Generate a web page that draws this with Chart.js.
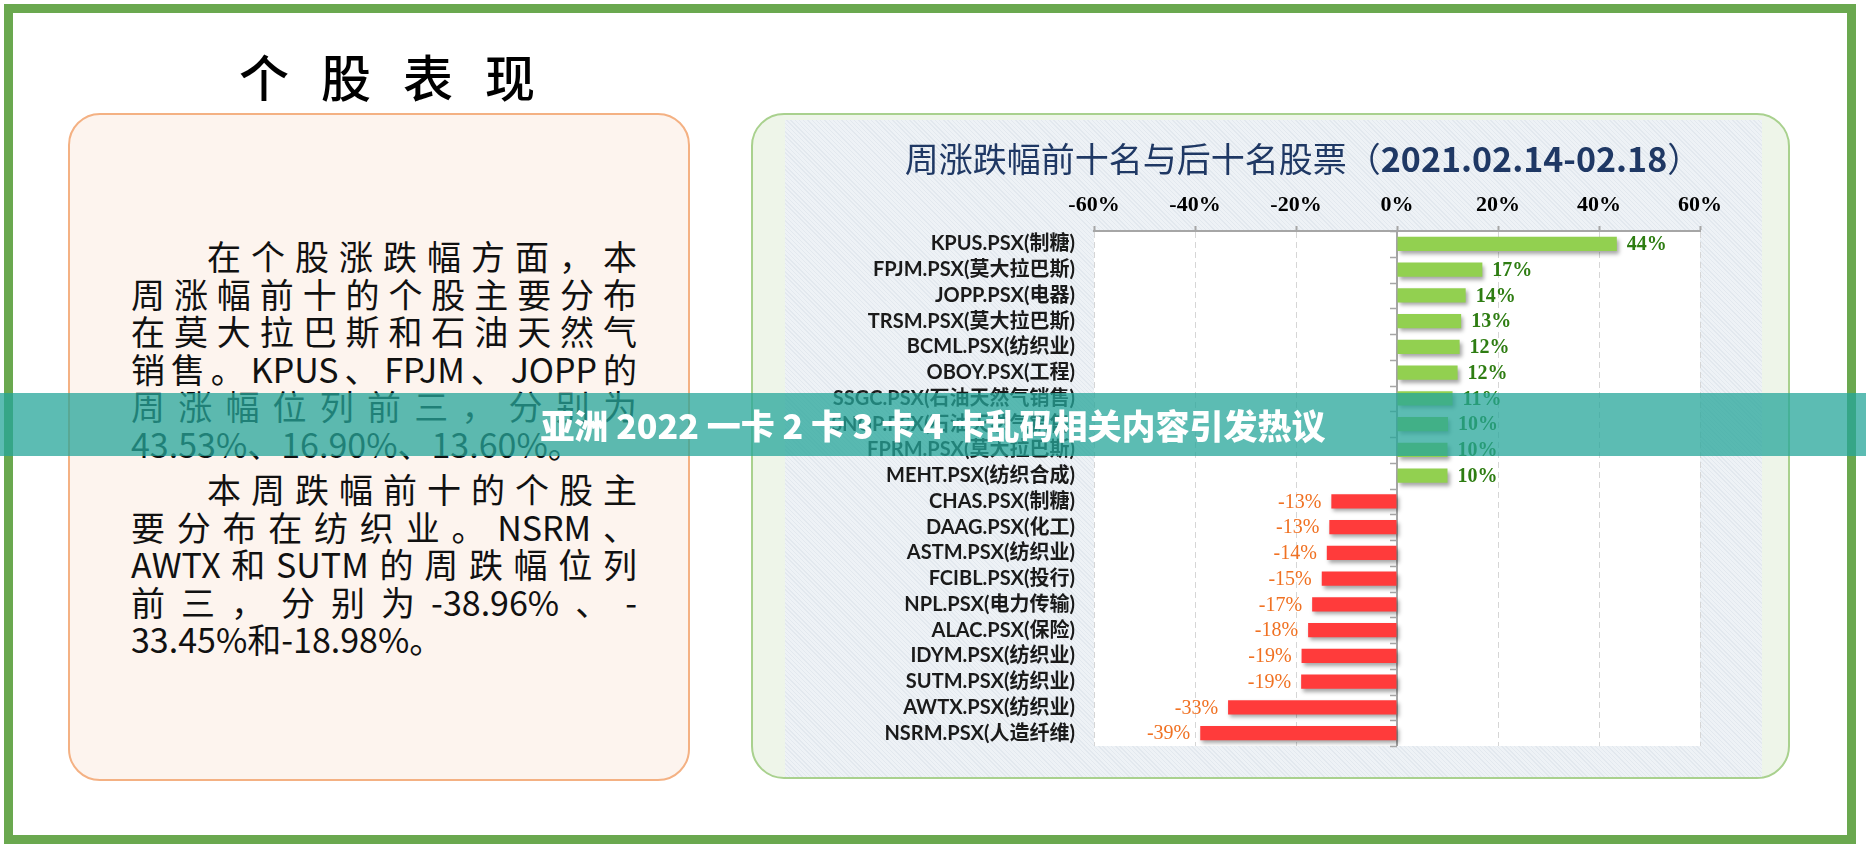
<!DOCTYPE html>
<html>
<head>
<meta charset="utf-8">
<script src="https://cdn.jsdelivr.net/npm/chart.js@4.4.0/dist/chart.umd.min.js"></script>
<style>
  html, body { margin: 0; padding: 0; background: #fff; }
  body { width: 1866px; height: 853px; position: relative; overflow: hidden; font-family: "Noto Sans CJK SC", "Noto Sans", sans-serif; }
  #frame { position: absolute; left: 4px; top: 4px; width: 1852px; height: 840px; border: 9px solid #6AA84F; box-sizing: border-box; }
  #pageTitle { position: absolute; left: 0; top: 45px; width: 774px; text-align: center; font-size: 50px; line-height: 60px; letter-spacing: 32px; padding-left: 32px; box-sizing: border-box; color: #000; font-weight: 500; }
  #leftBox { position: absolute; left: 68px; top: 113px; width: 622px; height: 668px; box-sizing: border-box; border: 2px solid #F4B183; border-radius: 32px; background: #FDF4EE; }
  #text { position: absolute; left: 131px; top: 237px; width: 506px; font-size: 34px; line-height: 37.6px; color: #111; }
  #text .ln { text-align: justify; text-align-last: justify; }
  #text .ln.last { text-align: left; text-align-last: left; }
  #text .para2 { margin-top: 7.4px; }
  #rightBox { position: absolute; left: 751px; top: 113px; width: 1039px; height: 666px; box-sizing: border-box; border: 2px solid #A9D18E; border-radius: 33px; background: #EEF5E9; }
  #chartWrap { position: absolute; left: 785px; top: 120px; width: 977px; height: 657px;
    background-color: #EEF2F6;
    background-image: repeating-linear-gradient(45deg, rgba(205,214,224,0.35) 0 1px, transparent 1px 3px); }
  #chartTitle { position: absolute; left: 803px; top: 137px; width: 1000px; text-align: center; font-size: 34px; line-height: 42px; color: #1F3864; }
  #chartTitle b { font-weight: 700; }
  #band { position: absolute; left: 0; top: 393px; width: 1866px; height: 63px; line-height: 63px; text-align: center; background: rgba(38,166,154,0.75); color: #fff; font-weight: 900; font-size: 34px; }
</style>
</head>
<body>
<div id="frame"></div>
<div id="pageTitle">个股表现</div>
<div id="leftBox"></div>
<div id="text">
  <div class="ln" style="padding-left:76px">在个股涨跌幅方面，本</div>
  <div class="ln">周涨幅前十的个股主要分布</div>
  <div class="ln">在莫大拉巴斯和石油天然气</div>
  <div class="ln">销售。KPUS、FPJM、JOPP的</div>
  <div class="ln">周涨幅位列前三，分别为</div>
  <div class="ln last">43.53%、16.90%、13.60%。</div>
  <div class="para2">
    <div class="ln" style="padding-left:76px">本周跌幅前十的个股主</div>
    <div class="ln">要分布在纺织业。NSRM、</div>
    <div class="ln">AWTX和SUTM的周跌幅位列</div>
    <div class="ln">前三，分别为-38.96%、-</div>
    <div class="ln last">33.45%和-18.98%。</div>
  </div>
</div>
<div id="rightBox"></div>
<div id="chartWrap"><canvas id="chart" width="977" height="657"></canvas></div>
<div id="chartTitle">周涨跌幅前十名与后十名股票（<b>2021.02.14-02.18</b>）</div>
<div id="band">亚洲 2022 一卡 2 卡 3 卡 4 卡乱码相关内容引发热议</div>

<script>
// stocks, top ten gainers then top ten losers
const categories = [
    'KPUS.PSX(制糖)', 'FPJM.PSX(莫大拉巴斯)', 'JOPP.PSX(电器)', 'TRSM.PSX(莫大拉巴斯)',
    'BCML.PSX(纺织业)', 'OBOY.PSX(工程)', 'SSGC.PSX(石油天然气销售)', 'SNGP.PSX(石油天然气销售)',
    'FPRM.PSX(莫大拉巴斯)', 'MEHT.PSX(纺织合成)', 'CHAS.PSX(制糖)', 'DAAG.PSX(化工)',
    'ASTM.PSX(纺织业)', 'FCIBL.PSX(投行)', 'NPL.PSX(电力传输)', 'ALAC.PSX(保险)',
    'IDYM.PSX(纺织业)', 'SUTM.PSX(纺织业)', 'AWTX.PSX(纺织业)', 'NSRM.PSX(人造纤维)'
];
const weeklyChange = [
    43.53, 16.90, 13.60, 12.7, 12.4, 12.0, 11.0, 10.1, 10.0, 10.0,
    -13.0, -13.4, -13.9, -14.9, -16.8, -17.6, -18.9, -18.98, -33.45, -38.96
];
const xTickValues = [-60, -40, -20, 0, 20, 40, 60];

const theme = {
    up: '#92D050',
    down: '#FF3B3B',
    upLabel: '#2E7D12',
    downLabel: '#F07122',
    axis: '#A6A6A6',
    grid: '#D6D6D6',
    text: '#1a1a1a'
};

const decorPlugin = {
    id: 'decor',
    beforeDraw(chart) {
        const { ctx, chartArea: a } = chart;
        ctx.save();
        ctx.fillStyle = '#ffffff';
        ctx.fillRect(a.left, a.top, a.right - a.left, a.bottom - a.top);
        ctx.restore();
    },
    beforeDatasetsDraw(chart) {
        const { ctx, chartArea: a, scales } = chart;
        const x0 = scales.x.getPixelForValue(0);
        const y = scales.y;
        // category axis drawn on the zero line
        ctx.save();
        ctx.strokeStyle = theme.axis;
        ctx.lineWidth = 2;
        ctx.beginPath();
        ctx.moveTo(x0, a.top);
        ctx.lineTo(x0, a.bottom);
        ctx.stroke();
        ctx.lineWidth = 1.5;
        for (let i = 0; i <= categories.length; i++) {
            const yy = Math.round(y.getPixelForValue(i - 0.5)) + 0.5;
            ctx.beginPath();
            ctx.moveTo(x0 - 7, yy);
            ctx.lineTo(x0, yy);
            ctx.stroke();
        }
        ctx.restore();

        ctx.save();
        ctx.shadowColor = 'rgba(0,0,0,0.35)';
        ctx.shadowBlur = 4;
        ctx.shadowOffsetX = 2;
        ctx.shadowOffsetY = 3;
    },
    afterDatasetsDraw(chart) {
        const { ctx } = chart;
        ctx.restore();

        const meta = chart.getDatasetMeta(0);
        ctx.save();
        ctx.textBaseline = 'middle';
        meta.data.forEach((bar, i) => {
            const v = weeklyChange[i];
            const text = Math.round(v) + '%';
            if (v >= 0) {
                ctx.font = 'bold 20px "Liberation Serif", serif';
                ctx.fillStyle = theme.upLabel;
                ctx.textAlign = 'left';
                ctx.fillText(text, bar.x + 10, bar.y + 1);
            } else {
                ctx.font = '20px "Liberation Serif", serif';
                ctx.fillStyle = theme.downLabel;
                ctx.textAlign = 'right';
                ctx.fillText(text, bar.x - 10, bar.y + 1);
            }
        });
        ctx.restore();
    }
};

const ctx = document.getElementById('chart').getContext('2d');
new Chart(ctx, {
    type: 'bar',
    data: {
        labels: categories,
        datasets: [{
            data: weeklyChange,
            backgroundColor: weeklyChange.map(v => v >= 0 ? theme.up : theme.down),
            borderWidth: 0,
            categoryPercentage: 1,
            barPercentage: 0.55
        }]
    },
    options: {
        indexAxis: 'y',
        responsive: false,
        animation: false,
        devicePixelRatio: 1,
        layout: { padding: { top: 0, left: 0, right: 62, bottom: 28 } },
        plugins: {
            legend: { display: false },
            title: { display: false },
            tooltip: { enabled: false }
        },
        scales: {
            x: {
                position: 'top',
                min: -60,
                max: 60,
                afterBuildTicks: (scale) => {
                    scale.ticks = xTickValues.map(v => ({ value: v }));
                },
                afterFit: (scale) => { scale.height = 111; },
                ticks: {
                    callback: (value) => value + '%',
                    color: '#000',
                    padding: 7,
                    maxRotation: 0,
                    font: { family: '"Liberation Serif", serif', size: 22, weight: 'bold' }
                },
                grid: {
                    color: theme.grid,
                    lineWidth: 1,
                    tickColor: theme.axis,
                    tickLength: 5,
                    tickWidth: 2,
                    tickBorderDash: []
                },
                border: { color: theme.axis, width: 2, dash: [6, 4] }
            },
            y: {
                afterFit: (scale) => { scale.width = 309; },
                grid: { display: false, drawTicks: false },
                border: { display: false },
                ticks: {
                    padding: 19,
                    color: theme.text,
                    autoSkip: false,
                    font: { family: 'Lato, "Noto Sans CJK SC", sans-serif', size: 20, weight: 'bold' }
                }
            }
        }
    },
    plugins: [decorPlugin]
});
</script>
</body>
</html>
